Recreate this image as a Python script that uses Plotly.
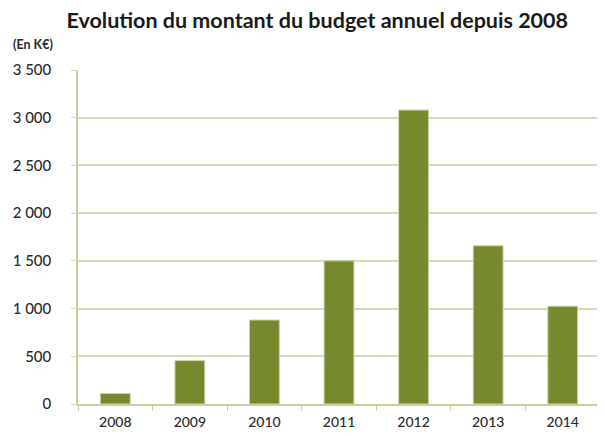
import plotly.graph_objects as go

years = ["2008", "2009", "2010", "2011", "2012", "2013", "2014"]
budget = [110, 455, 880, 1500, 3080, 1658, 1025]
y_ticks = [0, 500, 1000, 1500, 2000, 2500, 3000, 3500]

fig = go.Figure(go.Bar(
    x=years, y=budget,
    marker=dict(color="#76892E", line=dict(color="#C9D3A3", width=1)),
    width=0.4,
))

fig.update_layout(
    width=597, height=428,
    margin=dict(l=67, r=5, t=62, b=32),
    paper_bgcolor="white", plot_bgcolor="white",
    separators=", ",
    showlegend=False,
    title=dict(text="<b>Evolution du montant du budget annuel depuis 2008</b>",
               x=0.518, xanchor="center", y=0.972, yanchor="middle",
               font=dict(family="Lato", size=21.5, color="#1a1a1a")),
    annotations=[dict(text="<b>(En K€)</b>", xref="paper", yref="paper",
                      x=-0.1276, y=1.075, xanchor="left", yanchor="middle",
                      showarrow=False, font=dict(family="Lato", size=12.5, color="#2a2a2a"))],
)
fig.update_yaxes(range=[0, 3500], tickvals=y_ticks, tickformat=",d",
                 showgrid=True, gridcolor="#D5DCB5", gridwidth=1.5,
                 showline=True, linecolor="#C8D29E", linewidth=1.5,
                 ticks="outside", ticklen=5, tickcolor="#D5DCB5",
                 ticklabelstandoff=17,
                 tickfont=dict(family="Lato", size=15, color="#2b2b2b", weight=500),
                 zeroline=False)
fig.update_xaxes(showline=True, linecolor="#C8D29E", linewidth=1.5,
                 ticks="outside", ticklen=5, tickcolor="#C8D29E", tickson="boundaries",
                 ticklabelstandoff=4,
                 tickfont=dict(family="Lato", size=14, color="#2b2b2b", weight=500))

fig.write_html("out.html")
